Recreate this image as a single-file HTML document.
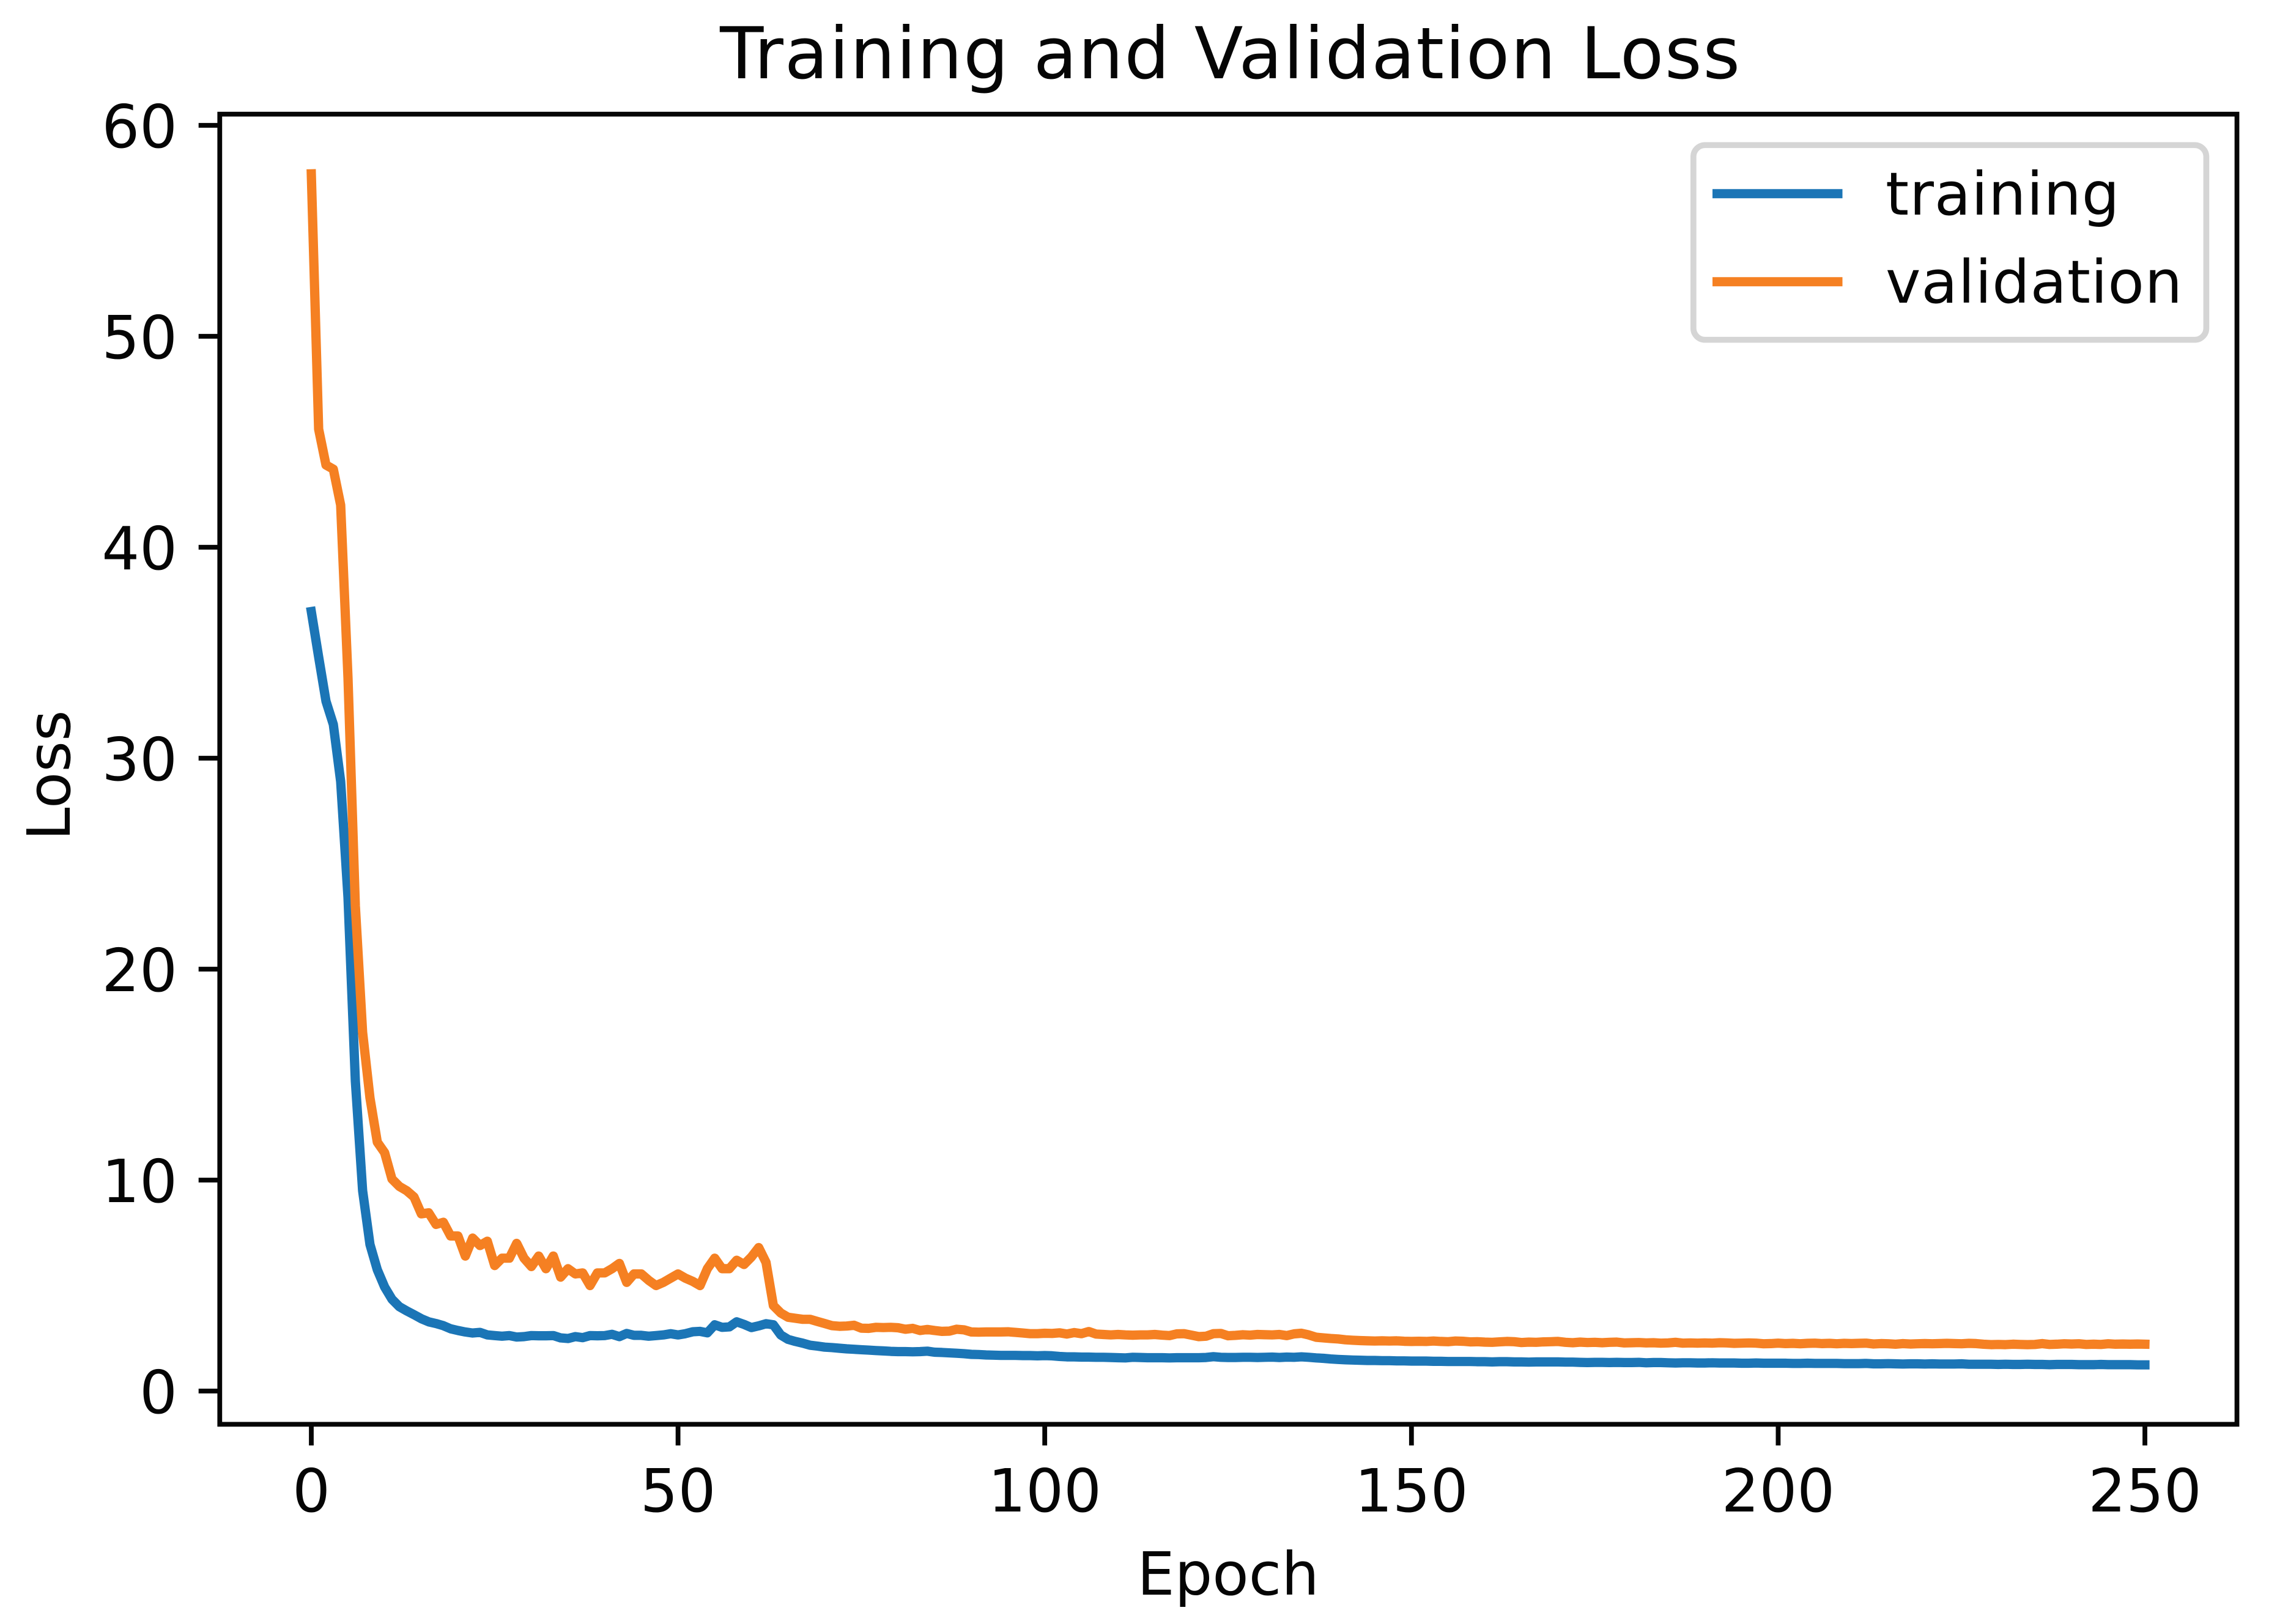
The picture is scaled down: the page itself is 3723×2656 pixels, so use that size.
<!DOCTYPE html>
<html lang="en">
<head>
<meta charset="utf-8">
<title>Training and Validation Loss</title>
<style>
html,body{margin:0;padding:0;background:#fff;width:3723px;height:2656px;overflow:hidden}
svg{display:block}
text{font-family:"DejaVu Sans","Liberation Sans",sans-serif;fill:#050505}
</style>
</head>
<body>
<svg id="chart" xmlns="http://www.w3.org/2000/svg" width="3723" height="2656" viewBox="0 0 3723 2656">
  <rect x="0" y="0" width="3723" height="2656" fill="#ffffff"/>
  <g id="ticks"></g>
  <g id="series"></g>
  <rect x="359.3" y="186.7" width="3298.2" height="2142.7" fill="none" stroke="#050505" stroke-width="7.8"/>
  <text x="2012" y="128" font-size="116.6" letter-spacing="1.7" text-anchor="middle">Training and Validation Loss</text>
  <text x="2008" y="2608" font-size="97.2" text-anchor="middle">Epoch</text>
  <text transform="translate(114 1268) rotate(-90)" font-size="97.2" text-anchor="middle">Loss</text>
  <g>
    <rect x="2768.8" y="237.3" width="838.6" height="318.4" rx="19" ry="19" fill="#ffffff" stroke="#d5d5d5" stroke-width="9.7"/>
    <line x1="2800" y1="316.7" x2="3012.5" y2="316.7" stroke="#1b75b6" stroke-width="15"/>
    <text x="3083" y="351" font-size="97.2" letter-spacing="0.85">training</text>
    <line x1="2800" y1="460.8" x2="3012.5" y2="460.8" stroke="#f58022" stroke-width="15"/>
    <text x="3083" y="495" font-size="97.2" letter-spacing="0.75">validation</text>
  </g>
</svg>
<script>
const xTickValues = [0, 50, 100, 150, 200, 250];
const yTickValues = [0, 10, 20, 30, 40, 50, 60];
const trainingLoss = [
36.95,34.8,32.7,31.6,28.9,23.4,14.7,9.5,6.95,5.75,
4.93,4.35,4.0,3.8,3.62,3.43,3.28,3.2,3.1,2.95,
2.87,2.8,2.75,2.78,2.66,2.63,2.6,2.63,2.56,2.58,
2.63,2.62,2.62,2.63,2.52,2.49,2.58,2.53,2.63,2.62,
2.63,2.69,2.58,2.73,2.64,2.64,2.6,2.63,2.66,2.72,
2.66,2.72,2.81,2.83,2.76,3.14,3.02,3.04,3.28,3.16,
3.01,3.09,3.19,3.14,2.66,2.45,2.35,2.27,2.17,2.13,
2.08,2.06,2.03,2.0,1.98,1.96,1.94,1.92,1.9,1.88,
1.87,1.87,1.86,1.87,1.89,1.84,1.83,1.81,1.79,1.77,
1.74,1.73,1.71,1.7,1.69,1.69,1.69,1.68,1.68,1.67,
1.68,1.67,1.64,1.62,1.62,1.61,1.61,1.6,1.6,1.59,
1.58,1.57,1.6,1.59,1.58,1.58,1.58,1.57,1.58,1.58,
1.58,1.58,1.59,1.63,1.6,1.59,1.59,1.6,1.6,1.59,
1.6,1.61,1.59,1.61,1.6,1.62,1.6,1.57,1.55,1.52,
1.5,1.48,1.47,1.46,1.45,1.45,1.44,1.44,1.43,1.43,
1.42,1.42,1.42,1.41,1.41,1.4,1.4,1.4,1.4,1.39,
1.39,1.38,1.39,1.39,1.38,1.38,1.37,1.38,1.38,1.38,
1.38,1.37,1.37,1.36,1.35,1.36,1.36,1.35,1.36,1.35,
1.35,1.36,1.34,1.35,1.35,1.34,1.33,1.34,1.34,1.33,
1.33,1.34,1.33,1.33,1.33,1.32,1.32,1.33,1.32,1.32,
1.32,1.32,1.31,1.31,1.32,1.31,1.31,1.31,1.31,1.3,
1.3,1.3,1.31,1.29,1.29,1.3,1.29,1.28,1.29,1.29,
1.28,1.29,1.28,1.28,1.28,1.29,1.27,1.27,1.27,1.27,
1.26,1.27,1.26,1.26,1.27,1.26,1.26,1.25,1.26,1.26,
1.26,1.25,1.25,1.25,1.26,1.25,1.25,1.25,1.25,1.24,1.24
];
const validationLoss = [
57.7,45.6,43.9,43.7,42.0,33.8,23.0,17.0,13.9,11.8,
11.3,10.05,9.7,9.5,9.2,8.4,8.45,7.9,8.0,7.35,
7.35,6.4,7.25,6.9,7.1,5.95,6.3,6.3,7.0,6.3,
5.9,6.4,5.8,6.4,5.4,5.8,5.55,5.6,5.0,5.6,
5.6,5.8,6.05,5.15,5.55,5.55,5.25,5.0,5.15,5.35,
5.55,5.35,5.2,5.0,5.8,6.3,5.8,5.8,6.2,6.0,
6.35,6.8,6.1,4.05,3.7,3.5,3.45,3.4,3.4,3.3,
3.2,3.1,3.07,3.08,3.12,2.98,2.97,3.02,3.01,3.02,
3.0,2.93,2.97,2.87,2.92,2.87,2.83,2.84,2.93,2.9,
2.8,2.79,2.8,2.8,2.8,2.81,2.78,2.75,2.72,2.72,
2.74,2.73,2.76,2.7,2.77,2.72,2.82,2.7,2.68,2.66,
2.68,2.66,2.65,2.66,2.66,2.68,2.65,2.63,2.71,2.72,
2.65,2.58,2.6,2.72,2.73,2.62,2.64,2.67,2.65,2.68,
2.67,2.66,2.68,2.63,2.71,2.74,2.66,2.55,2.52,2.49,
2.47,2.43,2.41,2.39,2.38,2.37,2.38,2.37,2.38,2.36,
2.35,2.36,2.35,2.37,2.35,2.34,2.37,2.36,2.33,2.34,
2.32,2.31,2.33,2.35,2.34,2.3,2.32,2.31,2.33,2.34,
2.35,2.31,2.29,2.32,2.3,2.31,2.29,2.31,2.32,2.28,
2.29,2.3,2.28,2.29,2.27,2.28,2.31,2.27,2.28,2.27,
2.28,2.27,2.29,2.28,2.26,2.27,2.28,2.27,2.24,2.25,
2.27,2.25,2.26,2.24,2.26,2.27,2.25,2.26,2.24,2.26,
2.25,2.26,2.27,2.23,2.25,2.24,2.22,2.25,2.23,2.24,
2.25,2.24,2.25,2.26,2.25,2.24,2.26,2.25,2.22,2.2,
2.21,2.2,2.22,2.21,2.2,2.21,2.25,2.21,2.22,2.24,
2.23,2.24,2.21,2.22,2.21,2.24,2.22,2.23,2.22,2.23,2.22
];

function xScale(epoch) { return 509 + epoch * 11.992; }
function yScale(loss) { return 2275 - loss * 34.5; }

const NS = 'http://www.w3.org/2000/svg';
const ticksGroup = document.getElementById('ticks');
const seriesGroup = document.getElementById('series');

xTickValues.forEach(function (v) {
  const tick = document.createElementNS(NS, 'line');
  
  
  tick.setAttribute('x1', xScale(v));
  tick.setAttribute('x2', xScale(v));
  tick.setAttribute('y1', 2329.4);
  tick.setAttribute('y2', 2364);
  tick.setAttribute('stroke', '#050505');
  tick.setAttribute('stroke-width', 7.8);
  ticksGroup.appendChild(tick);
  const label = document.createElementNS(NS, 'text');
  
  
  label.setAttribute('x', xScale(v));
  label.setAttribute('y', 2472);
  label.setAttribute('font-size', 97.2);
  label.setAttribute('text-anchor', 'middle');
  label.textContent = String(v);
  ticksGroup.appendChild(label);
});

yTickValues.forEach(function (v) {
  const tick = document.createElementNS(NS, 'line');
  
  
  tick.setAttribute('x1', 324.7);
  tick.setAttribute('x2', 359.3);
  tick.setAttribute('y1', yScale(v));
  tick.setAttribute('y2', yScale(v));
  tick.setAttribute('stroke', '#050505');
  tick.setAttribute('stroke-width', 7.8);
  ticksGroup.appendChild(tick);
  const label = document.createElementNS(NS, 'text');
  
  
  label.setAttribute('x', 290);
  label.setAttribute('y', yScale(v) + 36);
  label.setAttribute('font-size', 97.2);
  label.setAttribute('text-anchor', 'end');
  label.textContent = String(v);
  ticksGroup.appendChild(label);
});

function linePoints(values) {
  return values.map(function (v, i) {
    return xScale(i).toFixed(1) + ',' + yScale(v).toFixed(1);
  }).join(' ');
}

const trainingLine = document.createElementNS(NS, 'polyline');


trainingLine.setAttribute('points', linePoints(trainingLoss));
trainingLine.setAttribute('fill', 'none');
trainingLine.setAttribute('stroke', '#1b75b6');
trainingLine.setAttribute('stroke-width', 15.2);
trainingLine.setAttribute('stroke-linecap', 'square');
trainingLine.setAttribute('stroke-linejoin', 'round');
seriesGroup.appendChild(trainingLine);

const validationLine = document.createElementNS(NS, 'polyline');


validationLine.setAttribute('points', linePoints(validationLoss));
validationLine.setAttribute('fill', 'none');
validationLine.setAttribute('stroke', '#f58022');
validationLine.setAttribute('stroke-width', 15.2);
validationLine.setAttribute('stroke-linecap', 'square');
validationLine.setAttribute('stroke-linejoin', 'round');
seriesGroup.appendChild(validationLine);
</script>
</body>
</html>
